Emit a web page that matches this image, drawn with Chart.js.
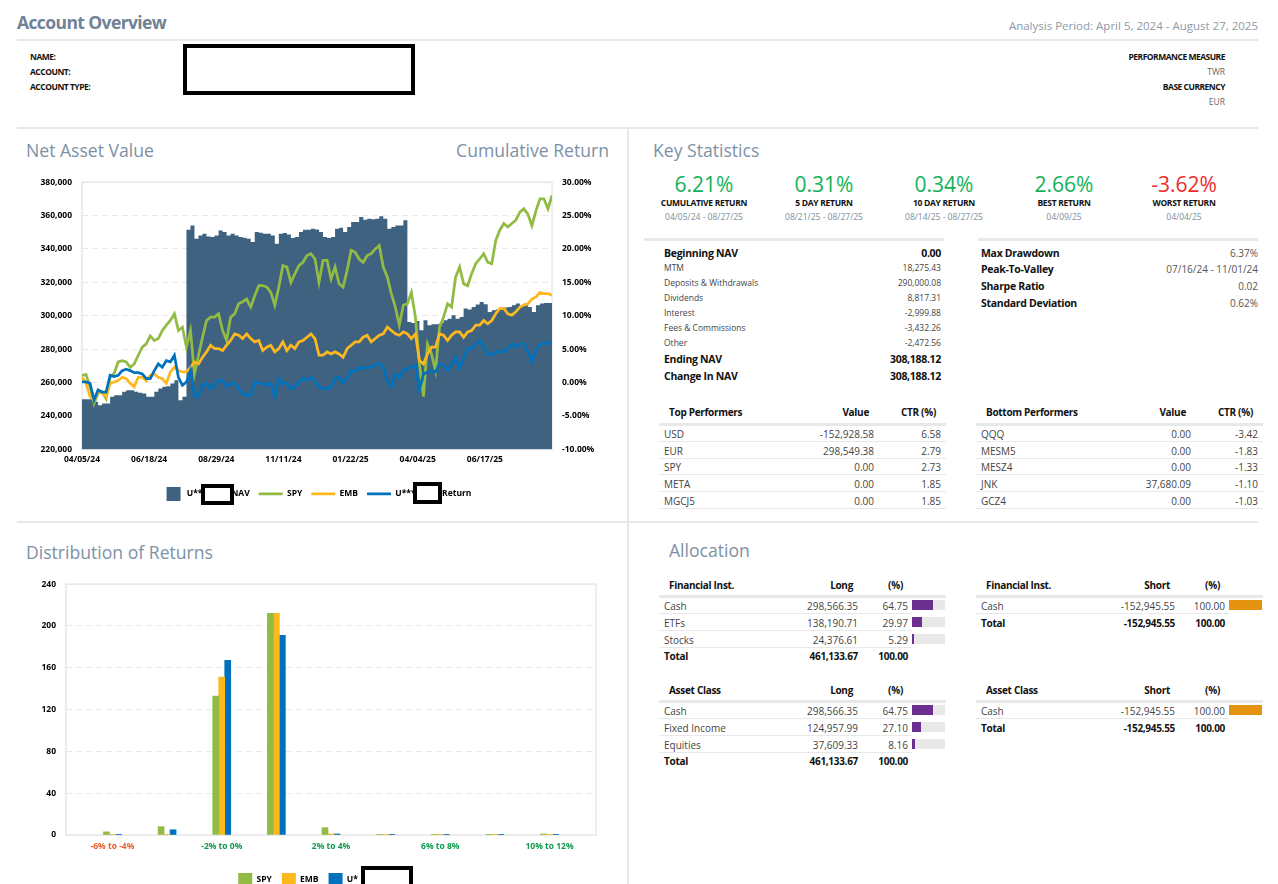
<!DOCTYPE html>
<html>
<head>
<meta charset="utf-8">
<title>Account Overview</title>
<script src="https://cdn.jsdelivr.net/npm/chart.js@4"></script>
<style>
  html, body { margin: 0; width: 1278px; height: 884px; overflow: hidden; background: #fff; }
  body { position: relative; font-family: "Open Sans", sans-serif; color: #444; }
  canvas { position: absolute; }
  .txt { position: absolute; white-space: nowrap; transform: translateY(-50%); line-height: 1; }
  .rule { position: absolute; background: #e8e8e8; }
  .redact { position: absolute; box-sizing: border-box; border: 4px solid #000; background: #fff; }
  .title { font-size: 17.6px; color: #7d91a5; }
  .head { font-size: 17.5px; font-weight: 700; color: #6f8296; letter-spacing: -0.6px; }
  .period { font-size: 11.5px; color: #8b9aa8; }
  .info { font-size: 8.5px; font-weight: 700; color: #111; letter-spacing: -0.5px; }
  .infoVal { font-size: 8.5px; color: #666; }
  .kpi { font-size: 21px; }
  .kpiLabel { font-size: 8.5px; font-weight: 700; color: #111; letter-spacing: -0.3px; }
  .kpiDate { font-size: 8.5px; color: #7d8c9a; }
  .big { font-size: 10.5px; font-weight: 700; color: #111; letter-spacing: -0.3px; }
  .small { font-size: 8.5px; color: #444; }
  .statVal { font-size: 10px; color: #555; }
  .th { font-size: 10px; font-weight: 700; color: #111; letter-spacing: -0.3px; }
  .td { font-size: 10px; color: #444; }
  .total { font-size: 10px; font-weight: 700; color: #111; letter-spacing: -0.3px; }
</style>
</head>
<body>
<canvas id="navChart" width="590" height="341" style="left:20px;top:167px"></canvas>
<canvas id="distChart" width="614" height="328" style="left:20px;top:569px"></canvas>
<script>
// Net asset value and cumulative return, sampled every three trading days
const sampleStep = 3;
const navTickLabels = ["04/05/24", "06/18/24", "08/29/24", "11/11/24", "01/22/25", "04/04/25", "06/17/25"];
const navValues = [
  250100, 250100, 250100, 248500, 246500, 247500, 247500, 251500, 252500, 252500,
  254500, 255500, 255500, 254500, 253900, 253500, 251500, 251500, 254500, 256500,
  257500, 257900, 259500, 261400, 249500, 251500, 351500, 354100, 346100, 348100,
  349100, 347500, 347100, 348100, 351100, 350100, 348100, 349100, 348100, 347100,
  346700, 346100, 344100, 350100, 349700, 349100, 349100, 348100, 343100, 349100,
  349500, 348700, 346500, 347100, 350100, 351500, 351500, 352100, 351700, 350100,
  347100, 346500, 347100, 352100, 352700, 350100, 353100, 356100, 356100, 359100,
  357500, 358100, 357700, 358100, 359500, 358100, 352100, 353100, 354100, 354100,
  357100, 296300, 295700, 296900, 291300, 297300, 294300, 294900, 294900, 295700,
  297300, 298300, 300300, 298300, 299300, 304300, 303700, 305300, 306700, 308300,
  306900, 302300, 303300, 303700, 304300, 304900, 305300, 306300, 307300, 306300,
  307300, 305300, 302300, 306300, 307300, 307700, 307700, 307900,
];
const spyReturns = [
  1.1, 1.2, -0.6, -3.1, -1.6, -1.4, -2.4, 0.8, 1.4, 3.1,
  3.3, 3.1, 2.3, 2.8, 4.1, 5.3, 5.8, 7.0, 6.3, 6.6,
  7.8, 8.6, 9.3, 10.3, 7.8, 8.3, 5.3, 7.8, 1.3, 4.1,
  6.8, 9.3, 9.8, 9.8, 10.3, 7.8, 6.3, 9.8, 10.3, 11.8,
  12.1, 12.5, 11.3, 13.0, 14.5, 14.5, 14.3, 13.5, 11.6, 14.3,
  17.5, 17.3, 15.0, 16.3, 17.5, 18.0, 19.0, 19.3, 18.5, 15.0,
  18.3, 18.3, 15.5, 17.3, 14.8, 14.3, 16.8, 19.8, 19.5, 18.5,
  18.0, 19.0, 19.3, 20.0, 20.5, 17.3, 15.8, 13.3, 11.3, 8.6,
  11.6, 11.8, 13.5, 9.8, 2.8, -2.1, 5.8, 4.3, 1.8, 8.3,
  9.8, 11.8, 11.3, 15.8, 17.3, 14.8, 14.5, 16.3, 17.8, 18.5,
  19.3, 18.0, 17.8, 21.3, 22.8, 23.8, 23.3, 23.8, 24.3, 25.5,
  26.0, 25.2, 23.5, 25.7, 27.5, 27.5, 26.0, 28.0,
];
const embReturns = [
  0.8, -0.1, -2.1, -2.6, -1.4, -1.4, -2.1, -0.1, 0.1, 0.3,
  0.8, 0.6, -0.1, -0.6, 0.8, 0.8, 0.3, 1.1, 1.3, 0.8,
  0.6, -0.1, 1.6, 2.3, 1.8, 1.6, 1.6, 2.3, 3.1, 2.8,
  3.8, 4.6, 5.6, 5.1, 5.1, 4.8, 5.6, 6.3, 7.3, 7.1,
  6.6, 7.3, 6.6, 6.1, 6.3, 4.8, 5.3, 5.6, 4.6, 5.1,
  6.1, 4.8, 5.6, 5.1, 6.1, 6.3, 6.8, 7.3, 6.6, 4.1,
  4.1, 4.6, 4.3, 4.6, 4.3, 3.8, 5.1, 5.6, 6.1, 6.1,
  6.8, 7.1, 6.1, 6.6, 7.1, 7.3, 8.3, 7.8, 7.3, 7.1,
  7.6, 7.3, 6.6, 7.3, 3.3, 2.8, 4.3, 5.3, 5.3, 7.3,
  7.1, 6.3, 7.1, 7.6, 7.6, 6.8, 7.6, 7.8, 8.6, 8.6,
  9.3, 8.8, 9.3, 10.3, 11.1, 11.1, 10.3, 10.1, 10.6, 11.3,
  11.6, 11.8, 12.5, 12.8, 13.5, 13.3, 13.3, 13.1,
];
const accountReturns = [
  0.1, 0.1, -0.1, -2.6, -1.1, -1.4, -1.4, 1.1, 0.9, 1.1,
  1.8, 2.0, 1.8, 1.5, 1.5, 1.3, 0.6, 0.6, 1.8, 2.8,
  2.3, 3.3, 3.1, 4.1, 0.8, -0.4, 0.1, 1.8, -2.1, -2.1,
  -0.4, -0.1, -0.9, -0.4, 0.3, 0.3, -0.6, -0.1, -0.1, -0.9,
  -1.6, -1.9, -1.9, 0.1, -0.1, -0.1, -0.4, -0.1, -2.1, 0.6,
  -0.1, -0.1, -0.9, -0.6, 0.1, 0.6, 0.4, 0.8, 0.3, -0.6,
  -0.9, -0.9, -0.7, 0.6, 0.8, -0.1, 0.8, 1.8, 1.6, 2.3,
  2.1, 2.3, 2.3, 2.6, 2.9, 2.3, 0.3, -0.6, 1.3, 0.8,
  1.8, 2.1, 2.3, 2.6, -1.1, 1.3, 1.6, 1.8, 1.6, 2.8,
  2.6, 1.8, 2.8, 3.8, 2.1, 3.6, 5.1, 5.1, 5.8, 6.3,
  5.3, 4.3, 4.1, 4.6, 4.6, 4.6, 5.1, 5.8, 5.3, 5.8,
  5.8, 4.6, 3.1, 4.8, 5.8, 5.8, 5.9, 6.1,
];

// Distribution of returns
const distCategories = ["-6% to -4%", "-4% to -2%", "-2% to 0%", "0% to 2%", "2% to 4%", "4% to 6%", "6% to 8%", "8% to 10%", "10% to 12%"];
const distSpy = [3, 8, 133, 212, 7, 0.1, 0.1, 0.1, 1];
const distEmb = [0.1, 0.1, 151, 212, 1, 0.1, 0.1, 0.1, 0.1];
const distAccount = [0.1, 5, 167, 191, 1, 0.1, 0.1, 0.1, 0.1];

// Key statistics
const kpiValues = ["6.21%", "0.31%", "0.34%", "2.66%", "-3.62%"];
const kpiLabels = ["CUMULATIVE RETURN", "5 DAY RETURN", "10 DAY RETURN", "BEST RETURN", "WORST RETURN"];
const kpiDates = ["04/05/24 - 08/27/25", "08/21/25 - 08/27/25", "08/14/25 - 08/27/25", "04/09/25", "04/04/25"];
const navRows = [
  ["Beginning NAV", "0.00", 253, "big"],
  ["MTM", "18,275.43", 268, "small"],
  ["Deposits & Withdrawals", "290,000.08", 283, "small"],
  ["Dividends", "8,817.31", 298, "small"],
  ["Interest", "-2,999.88", 313, "small"],
  ["Fees & Commissions", "-3,432.26", 328, "small"],
  ["Other", "-2,472.56", 343, "small"],
  ["Ending NAV", "308,188.12", 359, "big"],
  ["Change In NAV", "308,188.12", 376, "big"],
];
const riskRows = [
  ["Max Drawdown", "6.37%", 253],
  ["Peak-To-Valley", "07/16/24 - 11/01/24", 269],
  ["Sharpe Ratio", "0.02", 286],
  ["Standard Deviation", "0.62%", 303],
];
const topPerformers = [["USD", "-152,928.58", "6.58"], ["EUR", "298,549.38", "2.79"], ["SPY", "0.00", "2.73"], ["META", "0.00", "1.85"], ["MGCJ5", "0.00", "1.85"]];
const bottomPerformers = [["QQQ", "0.00", "-3.42"], ["MESM5", "0.00", "-1.83"], ["MESZ4", "0.00", "-1.33"], ["JNK", "37,680.09", "-1.10"], ["GCZ4", "0.00", "-1.03"]];

// Allocation
const instLong = [["Cash", "298,566.35", 64.75], ["ETFs", "138,190.71", 29.97], ["Stocks", "24,376.61", 5.29]];
const classLong = [["Cash", "298,566.35", 64.75], ["Fixed Income", "124,957.99", 27.10], ["Equities", "37,609.33", 8.16]];
const cashShort = [["Cash", "-152,945.55", 100]];
const longTotal = "461,133.67";
const shortTotal = "-152,945.55";

const colors = { nav: "#3f6280", spy: "#91bb43", emb: "#fdb81e", account: "#0071bc", grid: "#e8e8e8" };
const tickFont = { family: "Open Sans", size: 8.5, weight: "bold" };

// Add a line of text to the page, x is the right edge when right is true
const put = (text, x, y, cls, align = "left", color) => {
  const el = document.createElement("div");
  el.className = `txt ${cls}`;
  el.textContent = text;
  el.style.top = `${y}px`;
  if (align === "right") el.style.right = `${1278 - x}px`;
  else if (align === "center") {
    el.style.left = `${x}px`;
    el.style.transform = "translate(-50%, -50%)";
  } else el.style.left = `${x}px`;
  if (color) el.style.color = color;
  document.body.appendChild(el);
};

const box = (cls, x, y, w, h, color) => {
  const el = document.createElement("div");
  el.className = cls;
  el.style.cssText = `left:${x}px;top:${y}px;width:${w}px;height:${h}px;${color ? `background:${color};` : ""}`;
  document.body.appendChild(el);
};

// Page frame and header
const drawHeader = () => {
  put("Account Overview", 17, 23, "head");
  put("Analysis Period: April 5, 2024 - August 27, 2025", 1258, 26, "period", "right");
  box("rule", 17, 39, 1241, 2);
  box("rule", 17, 127, 1241, 2);
  box("rule", 17, 521, 1241, 2);
  box("rule", 627, 128, 2, 756);
  put("NAME:", 30, 57, "info");
  put("ACCOUNT:", 30, 72, "info");
  put("ACCOUNT TYPE:", 30, 87, "info");
  box("redact", 183, 44, 232, 51);
  put("PERFORMANCE MEASURE", 1225, 57, "info", "right");
  put("TWR", 1225, 72, "infoVal", "right");
  put("BASE CURRENCY", 1225, 87, "info", "right");
  put("EUR", 1225, 102, "infoVal", "right");
  put("Net Asset Value", 26, 151, "title");
  put("Cumulative Return", 609, 151, "title", "right");
  put("Key Statistics", 653, 151, "title");
  put("Distribution of Returns", 26, 553, "title");
  put("Allocation", 669, 551, "title");
};

const drawKeyStats = () => {
  kpiValues.forEach((value, i) => {
    const x = 704 + i * 120;
    put(value, x, 184, "kpi", "center", value.startsWith("-") ? "#ee2c2c" : "#12b259");
    put(kpiLabels[i], x, 203, "kpiLabel", "center");
    put(kpiDates[i], x, 217, "kpiDate", "center");
  });
  box("rule", 644, 238, 300, 3);
  box("rule", 978, 238, 280, 3);
  navRows.forEach(([label, value, y, cls]) => {
    put(label, 664, y, cls);
    put(value, 941, y, cls, "right");
  });
  riskRows.forEach(([label, value, y]) => {
    put(label, 981, y, "big");
    put(value, 1258, y, "statVal", "right");
  });
};

// One performers table, x is where the row labels start
const drawPerformers = (title, rows, x) => {
  const rowY = [434, 451, 467, 484, 501];
  put(title, x + 5, 412, "th");
  put("Value", x + 205, 412, "th", "right");
  put("CTR (%)", x + 272, 412, "th", "right");
  box("rule", x - 5, 423, 287, 3);
  rows.forEach(([name, value, ctr], i) => {
    put(name, x, rowY[i], "td");
    put(value, x + 210, rowY[i], "td", "right");
    put(ctr, x + 277, rowY[i], "td", "right");
    box("rule", x - 5, rowY[i] + 7, 287, 1);
  });
};

// One allocation table with its small percentage bars
const drawAllocation = (title, side, rows, total, x, top, barColor) => {
  const rowY = [21, 37.5, 54.5];
  put(title, x + 5, top, "th");
  put(side, x + 189, top, "th", "right");
  put("(%)", x + 239, top, "th", "right");
  box("rule", x - 5, top + 10, 287, 3);
  rows.forEach(([name, value, pct], i) => {
    const y = top + rowY[i];
    put(name, x, y, "td");
    put(value, x + 194, y, "td", "right");
    put(pct.toFixed(2), x + 244, y, "td", "right");
    box("rule", x - 5, y + 7, 253, 1);
    box("rule", x + 248, y - 6, 33, 10);
    box("rule", x + 248, y - 6, 33 * pct / 100, 10, barColor);
  });
  const y = top + rowY[rows.length - 1] + 16.5;
  put("Total", x, y, "total");
  put(total, x + 194, y, "total", "right");
  put("100.00", x + 244, y, "total", "right");
};

// Plot frame around the chart area
const framePlugin = {
  id: "frame",
  beforeDatasetsDraw(chart) {
    const { ctx, chartArea: a } = chart;
    ctx.save();
    ctx.strokeStyle = colors.grid;
    ctx.lineWidth = 1.5;
    ctx.strokeRect(a.left, a.top, a.right - a.left, a.bottom - a.top);
    ctx.restore();
  },
};

const toPoints = (values) => values.map((y, i) => ({ x: i * sampleStep, y }));

// Square legend swatch that sits at the right end of the wider line slot
const navSwatch = () => {
  const swatch = document.createElement("canvas");
  swatch.width = 24;
  swatch.height = 14;
  const ctx = swatch.getContext("2d");
  ctx.fillStyle = colors.nav;
  ctx.fillRect(8, 0, 14, 14);
  return swatch;
};

const lineSet = (label, values, color, order) => ({
  label,
  data: toPoints(values),
  borderColor: color,
  backgroundColor: color,
  borderWidth: 2.75,
  pointRadius: 0,
  pointStyle: "line",
  tension: 0,
  order,
  yAxisID: "ret",
});

const drawNavChart = () => {
  new Chart(document.getElementById("navChart"), {
    type: "line",
    data: {
      datasets: [
        {
          label: "U***\u00a0\u00a0\u00a0\u00a0\u00a0\u00a0\u00a0\u00a0\u00a0\u00a0\u00a0NAV",
          data: toPoints(navValues),
          borderWidth: 0,
          borderColor: colors.nav,
          backgroundColor: colors.nav,
          pointRadius: 0,
          pointStyle: navSwatch(),
          stepped: true,
          fill: "start",
          order: 4,
          yAxisID: "nav",
        },
        lineSet("SPY", spyReturns, colors.spy, 3),
        lineSet("EMB", embReturns, colors.emb, 2),
        lineSet("U***\u00a0\u00a0\u00a0\u00a0\u00a0\u00a0\u00a0\u00a0\u00a0\u00a0\u00a0\u00a0Return", accountReturns, colors.account, 1),
      ],
    },
    options: {
      responsive: false,
      animation: false,
      layout: { padding: { top: 4 } },
      plugins: {
        legend: {
          position: "bottom",
          labels: {
            usePointStyle: true,
            pointStyleWidth: 24,
            boxHeight: 14,
            padding: 9,
            color: "#000",
            font: tickFont,
            sort: (a, b) => a.datasetIndex - b.datasetIndex,
          },
        },
        tooltip: { enabled: false },
      },
      scales: {
        x: {
          type: "linear",
          min: 0,
          max: (navValues.length - 1) * sampleStep,
          afterFit: (scale) => { scale.height = 31; },
          grid: { display: false, drawTicks: false },
          border: { display: false },
          ticks: {
            stepSize: 50,
            includeBounds: false,
            autoSkip: false,
            maxRotation: 0,
            padding: 5,
            color: "#000",
            font: tickFont,
            callback: (value) => navTickLabels[Math.round(value / 50)],
          },
        },
        nav: {
          position: "left",
          min: 220000,
          max: 380000,
          afterFit: (scale) => { scale.width = 62; },
          grid: { color: colors.grid, drawTicks: false },
          border: { display: false, dash: [6, 4] },
          ticks: { stepSize: 20000, padding: 10, color: "#000", font: tickFont, callback: (v) => v.toLocaleString("en-US") },
        },
        ret: {
          position: "right",
          min: -10,
          max: 30,
          afterFit: (scale) => { scale.width = 58; },
          grid: { display: false, drawTicks: false },
          border: { display: false },
          ticks: { stepSize: 5, padding: 10, color: "#000", font: tickFont, callback: (v) => `${v.toFixed(2)}%` },
        },
      },
    },
    plugins: [framePlugin],
  });
};

const barSet = (label, data, color) => ({ label, data: data.map((y, i) => ({ x: i, y })), backgroundColor: color, barThickness: 6 });

const drawDistChart = () => {
  new Chart(document.getElementById("distChart"), {
    type: "bar",
    data: {
      datasets: [
        barSet("SPY", distSpy, colors.spy),
        barSet("EMB", distEmb, colors.emb),
        barSet("U*\u00a0\u00a0\u00a0\u00a0\u00a0\u00a0\u00a0\u00a0\u00a0", distAccount, colors.account),
      ],
    },
    options: {
      responsive: false,
      animation: false,
      layout: { padding: { top: 5, right: 38 } },
      plugins: { legend: { position: "bottom", labels: { boxWidth: 14, boxHeight: 14, padding: 10, color: "#000", font: tickFont } }, tooltip: { enabled: false } },
      scales: {
        x: {
          type: "linear",
          offset: false,
          min: -0.85,
          max: 8.85,
          afterFit: (scale) => { scale.height = 28; },
          grid: { display: false, drawTicks: false },
          border: { display: false },
          ticks: {
            stepSize: 2,
            includeBounds: false,
            autoSkip: false,
            maxRotation: 0,
            padding: 6,
            font: tickFont,
            color: (ctx) => (ctx.tick.value < 2 ? "#f05a28" : "#0a9a4a"),
            callback: (value) => distCategories[value],
          },
        },
        y: {
          min: 0,
          max: 240,
          afterFit: (scale) => { scale.width = 46; },
          grid: { color: colors.grid, drawTicks: false },
          border: { display: false, dash: [6, 4] },
          ticks: { stepSize: 40, padding: 10, color: "#000", font: tickFont },
        },
      },
    },
    plugins: [framePlugin],
  });
};

drawHeader();
drawKeyStats();
drawPerformers("Top Performers", topPerformers, 664);
drawPerformers("Bottom Performers", bottomPerformers, 981);
drawAllocation("Financial Inst.", "Long", instLong, longTotal, 664, 585, "#6b2f8f");
drawAllocation("Asset Class", "Long", classLong, longTotal, 664, 690, "#6b2f8f");
drawAllocation("Financial Inst.", "Short", cashShort, shortTotal, 981, 585, "#e3930f");
drawAllocation("Asset Class", "Short", cashShort, shortTotal, 981, 690, "#e3930f");
drawNavChart();
drawDistChart();
box("redact", 201, 484, 33, 21);
box("redact", 413, 482, 29, 22);
box("redact", 361, 866, 52, 24);
</script>
</body>
</html>
